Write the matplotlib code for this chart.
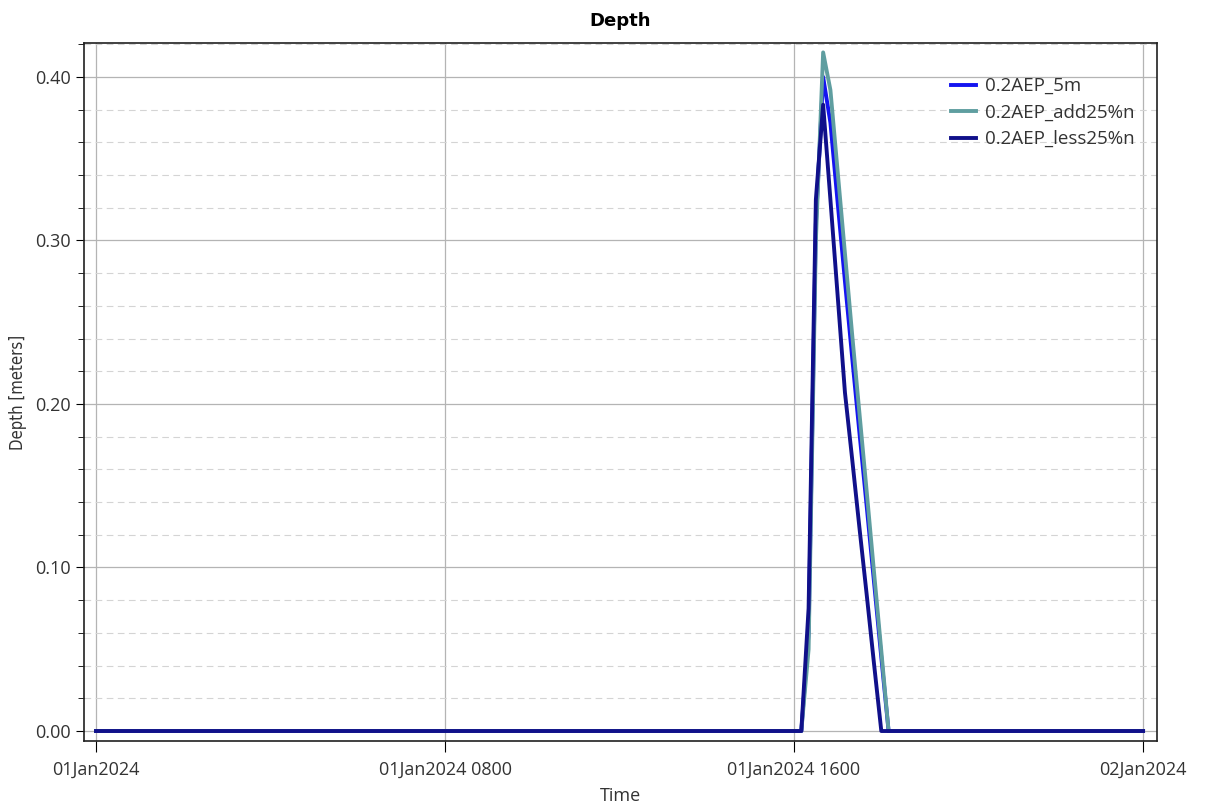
import matplotlib
matplotlib.use('Agg')
import matplotlib.pyplot as plt
from matplotlib.ticker import MultipleLocator

plt.rcParams['font.family'] = ['Open Sans', 'DejaVu Sans']

# time in hours from 01Jan2024 0000
hours = [0, 16 + 10/60, 16 + 20/60, 16.5, 16 + 40/60, 16 + 50/60, 17, 17 + 10/60,
         17 + 20/60, 17.5, 17 + 40/60, 17 + 50/60, 18, 18 + 10/60, 24]

depth_5m = [0, 0, 0.06, 0.31, 0.400, 0.372, 0.323, 0.275, 0.228, 0.182, 0.137, 0.091, 0.045, 0, 0]
depth_add25 = [0, 0, 0.05, 0.30, 0.415, 0.392, 0.342, 0.292, 0.242, 0.194, 0.146, 0.097, 0.049, 0, 0]
depth_less25 = [0, 0, 0.075, 0.325, 0.383, 0.325, 0.266, 0.207, 0.166, 0.124, 0.083, 0.041, 0, 0, 0]

series_names = ['0.2AEP_5m', '0.2AEP_add25%n', '0.2AEP_less25%n']
series_colors = ['#1414f0', '#5f9ea0', '#10108a']

tick_hours = [0, 8, 16, 24]
tick_labels = ['01Jan2024', '01Jan2024 0800', '01Jan2024 1600', '02Jan2024']

fig = plt.figure(figsize=(12.05, 8.1), dpi=100, facecolor='white')
ax = fig.add_axes([0.0697, 0.0852, 0.8905, 0.8618])

for vals, name, col in zip([depth_5m, depth_add25, depth_less25], series_names, series_colors):
    ax.plot(hours, vals, color=col, linewidth=2.8, label=name, zorder=3)

ax.set_xlim(-0.275, 24.32)
ax.set_ylim(-0.0061, 0.4208)

ax.set_xticks(tick_hours)
ax.set_xticklabels(tick_labels, fontsize=13, color='#333333')
ax.yaxis.set_major_locator(MultipleLocator(0.1))
ax.yaxis.set_minor_locator(MultipleLocator(0.02))
ax.yaxis.set_major_formatter(plt.FuncFormatter(lambda v, p: f'{v:.2f}'))
ax.tick_params(axis='y', which='major', length=6, labelsize=13, labelcolor='#333333')
ax.tick_params(axis='y', which='minor', length=4)
ax.tick_params(axis='x', length=8, labelsize=13, pad=6)

ax.grid(True, which='major', axis='both', color='#b4b4b4', linewidth=0.9)
ax.grid(True, which='minor', axis='y', color='#d4d4d4', linewidth=0.8, linestyle=(0, (6, 4)))
ax.set_axisbelow(True)

for s in ax.spines.values():
    s.set_linewidth(1.2)
    s.set_color('#202020')

ax.set_title('Depth', fontsize=13, fontweight='bold', pad=12, family='DejaVu Sans')
ax.set_xlabel('Time', fontsize=13, labelpad=6, color='#333333')
ax.set_ylabel('Depth [meters]', fontsize=12, family='DejaVu Sans', fontstretch='condensed',
              color='#333333', labelpad=6)

ax.legend(loc='upper right', bbox_to_anchor=(0.995, 0.975), frameon=False, fontsize=13.5,
          handlelength=1.3, handletextpad=0.5, labelspacing=0.45, labelcolor='#333333')

fig.savefig('out.png', dpi=100, facecolor='white')
